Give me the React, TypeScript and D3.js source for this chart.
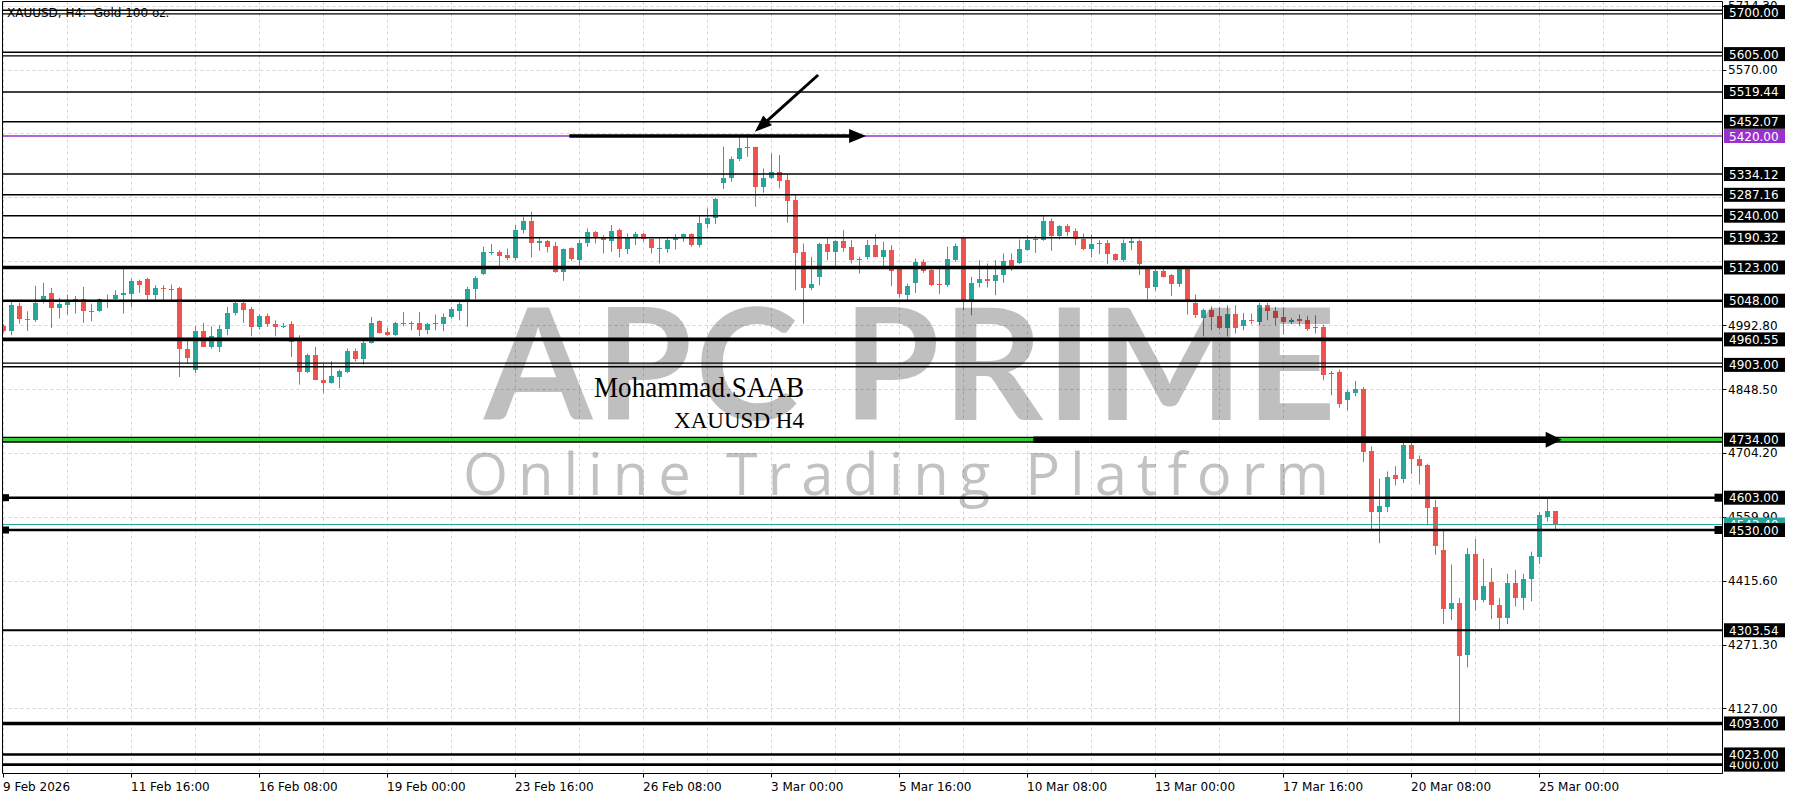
import * as d3 from "d3";

// XAUUSD H4, 9 Feb 2026 00:00 .. 25 Mar 2026 08:00 (one entry per bar)
const OPEN = [
  4990.3, 4979.7, 5035.5, 5007.6, 5003.9, 5047.6, 5066.4, 5031.8, 5039.3, 5047.6,
  5051.4, 5022.7, 5024.2, 5050.6, 5051.4, 5061.9, 5064.2, 5092.1, 5096.6, 5061.9,
  5077.0, 5074.0, 5077.0, 4939.8, 4890.8, 4980.5, 4943.5, 4943.5, 4985.0, 5020.4,
  5043.1, 5028.7, 4988.8, 5012.9, 4996.3, 4990.3, 4994.8, 4956.4, 4887.0, 4924.7,
  4869.6, 4862.1, 4875.7, 4887.0, 4933.7, 4915.6, 4953.3, 5001.6, 4977.5, 4971.4,
  4997.8, 4994.8, 4997.8, 4981.2, 4994.8, 4996.3, 5011.4, 5025.0, 5049.1, 5073.3,
  5107.2, 5156.5, 5156.9, 5150.9, 5143.4, 5207.5, 5227.8, 5177.3, 5182.6, 5171.3,
  5113.2, 5166.0, 5139.6, 5177.3, 5202.2, 5192.4, 5183.3, 5207.5, 5163.7, 5192.4,
  5198.4, 5186.3, 5164.5, 5163.7, 5184.8, 5192.4, 5198.4, 5173.5, 5220.3, 5233.8,
  5314.5, 5324.3, 5367.3, 5392.2, 5394.4, 5305.5, 5324.3, 5339.4, 5320.6, 5275.3,
  5156.9, 5077.0, 5101.9, 5175.8, 5158.5, 5182.6, 5168.3, 5139.6, 5147.2, 5173.5,
  5147.2, 5162.2, 5118.5, 5060.4, 5088.3, 5134.3, 5117.0, 5085.3, 5083.0, 5139.6,
  5190.1, 5049.1, 5088.3, 5096.6, 5092.8, 5105.7, 5139.6, 5132.1, 5162.2, 5184.8,
  5184.8, 5227.8, 5193.9, 5216.5, 5205.2, 5187.1, 5164.5, 5175.8, 5178.8, 5153.2,
  5139.6, 5177.3, 5182.6, 5122.2, 5079.3, 5114.7, 5105.7, 5085.3, 5120.8, 5043.8,
  5009.1, 5026.5, 5012.9, 4987.3, 5019.0, 4990.3, 5005.4, 5000.1, 5037.8, 5024.2,
  5011.4, 5000.1, 5007.6, 5005.4, 4986.5, 4988.8, 4881.7, 4887.0, 4824.4, 4839.5,
  4849.3, 4708.3, 4570.3, 4581.6, 4653.3, 4644.2, 4721.1, 4691.0, 4675.9, 4581.6,
  4485.9, 4351.6, 4365.2, 4247.6, 4476.1, 4372.0, 4412.0, 4360.7, 4331.3, 4409.7,
  4376.6, 4419.5, 4468.6, 4559.0, 4571.8,
];
const HIGH = [
  4995.0, 5045.3, 5043.1, 5024.2, 5081.5, 5088.3, 5077.0, 5054.4, 5061.9, 5058.9,
  5079.3, 5041.6, 5052.9, 5061.9, 5071.7, 5119.2, 5098.1, 5095.8, 5099.6, 5083.0,
  5083.0, 5084.5, 5079.3, 4958.6, 4990.3, 4997.8, 4990.3, 4992.6, 5034.0, 5049.1,
  5050.6, 5034.0, 5017.4, 5018.9, 5003.9, 4997.8, 5001.6, 4969.9, 4928.5, 4943.5,
  4905.8, 4911.1, 4892.3, 4939.8, 4939.8, 4962.4, 5011.4, 5003.9, 4986.5, 5000.1,
  5022.7, 5001.6, 5022.7, 4997.8, 5016.7, 5018.9, 5034.0, 5047.6, 5079.3, 5103.4,
  5169.8, 5175.8, 5162.2, 5166.0, 5218.8, 5237.6, 5248.9, 5192.4, 5184.8, 5181.1,
  5166.0, 5168.3, 5186.3, 5211.2, 5205.2, 5196.2, 5218.8, 5211.2, 5199.9, 5203.7,
  5201.4, 5188.6, 5188.6, 5192.4, 5198.4, 5199.9, 5199.9, 5239.1, 5256.5, 5280.6,
  5396.0, 5373.3, 5416.3, 5416.3, 5396.0, 5346.9, 5380.9, 5377.1, 5331.9, 5286.6,
  5177.3, 5147.2, 5178.8, 5188.6, 5184.8, 5207.5, 5184.8, 5147.2, 5184.8, 5198.4,
  5181.1, 5173.5, 5122.0, 5086.8, 5143.4, 5141.1, 5120.8, 5120.8, 5169.8, 5177.3,
  5192.4, 5101.9, 5139.6, 5132.1, 5139.6, 5154.7, 5154.7, 5186.3, 5196.2, 5194.6,
  5241.4, 5233.8, 5218.8, 5221.0, 5211.2, 5199.9, 5197.7, 5184.8, 5184.8, 5154.7,
  5186.3, 5190.1, 5186.3, 5126.0, 5120.8, 5120.8, 5107.9, 5124.5, 5122.0, 5061.9,
  5030.2, 5035.5, 5034.0, 5037.8, 5037.8, 5020.4, 5018.9, 5043.1, 5043.1, 5034.0,
  5032.5, 5009.1, 5016.7, 5013.7, 5015.2, 4994.1, 4889.3, 4892.3, 4847.0, 4866.6,
  4853.1, 4718.9, 4645.7, 4662.3, 4674.4, 4732.4, 4732.4, 4698.5, 4679.7, 4598.2,
  4532.6, 4451.9, 4376.6, 4488.9, 4510.0, 4464.8, 4444.4, 4376.6, 4430.8, 4439.9,
  4430.8, 4481.4, 4570.3, 4600.5, 4571.8,
];
const LOW = [
  4976.0, 4969.9, 4996.3, 4979.7, 5000.1, 5041.6, 4986.5, 5007.6, 5016.7, 5018.9,
  4997.8, 5001.6, 5022.7, 5031.8, 5049.1, 5018.9, 5034.0, 5065.7, 5049.1, 5049.1,
  5049.1, 5049.1, 4875.7, 4905.8, 4884.7, 4943.5, 4940.0, 4932.2, 4969.9, 5015.2,
  4997.8, 4967.7, 4982.7, 4988.8, 4967.7, 4986.5, 4920.9, 4858.3, 4884.7, 4868.1,
  4839.5, 4860.6, 4850.8, 4884.7, 4911.1, 4903.6, 4951.1, 4973.7, 4968.4, 4968.4,
  4990.3, 4981.2, 4967.7, 4972.2, 4981.2, 4979.0, 5007.6, 5003.9, 4988.8, 5050.6,
  5105.7, 5150.9, 5120.8, 5139.6, 5139.6, 5199.9, 5145.6, 5160.7, 5157.0, 5111.0,
  5092.9, 5138.1, 5120.8, 5169.8, 5177.3, 5154.7, 5158.5, 5145.6, 5153.2, 5173.5,
  5181.1, 5154.7, 5132.1, 5156.2, 5163.7, 5181.1, 5169.8, 5168.3, 5211.2, 5221.0,
  5300.2, 5316.8, 5363.5, 5373.3, 5260.2, 5291.9, 5322.8, 5301.7, 5224.0, 5071.7,
  4996.3, 5071.7, 5083.0, 5139.6, 5120.8, 5158.5, 5132.1, 5109.4, 5141.1, 5145.6,
  5120.8, 5080.8, 5055.0, 5049.1, 5065.7, 5110.9, 5080.8, 5062.7, 5079.3, 5135.8,
  5026.5, 5015.2, 5077.7, 5077.7, 5060.4, 5088.3, 5115.5, 5130.5, 5160.7, 5156.2,
  5183.3, 5160.7, 5186.3, 5193.9, 5173.5, 5162.2, 5145.6, 5153.2, 5130.5, 5138.1,
  5135.8, 5162.2, 5105.7, 5050.6, 5070.2, 5100.4, 5058.2, 5079.3, 5016.7, 5009.1,
  4967.7, 4981.2, 4982.7, 4967.7, 4973.7, 4981.2, 4994.8, 4992.6, 5003.9, 4992.6,
  4971.4, 4994.8, 4990.3, 4979.7, 4973.7, 4868.1, 4834.2, 4806.3, 4800.3, 4832.0,
  4683.4, 4528.9, 4500.2, 4570.3, 4630.7, 4635.9, 4657.0, 4632.9, 4540.2, 4473.8,
  4317.7, 4326.8, 4095.3, 4219.7, 4347.9, 4366.7, 4329.0, 4302.6, 4317.7, 4356.9,
  4349.4, 4369.0, 4453.5, 4549.2, 4528.9,
];
const CLOSE = [
  4979.7, 5037.8, 5007.6, 5003.9, 5043.1, 5058.1, 5031.8, 5040.1, 5045.3, 5051.4,
  5024.2, 5024.2, 5051.4, 5047.6, 5061.9, 5065.7, 5092.1, 5084.5, 5061.9, 5077.0,
  5074.0, 5075.5, 4938.3, 4918.7, 4980.5, 4943.5, 4968.4, 4985.0, 5020.4, 5043.1,
  5026.5, 4988.8, 5012.9, 4994.8, 4988.8, 4991.8, 4954.9, 4887.0, 4924.7, 4869.6,
  4862.1, 4877.2, 4888.5, 4933.7, 4915.6, 4953.3, 4998.6, 4975.2, 4969.9, 4997.8,
  4994.8, 4997.8, 4981.2, 4994.8, 4997.8, 5011.4, 5028.7, 5041.6, 5074.0, 5099.6,
  5156.9, 5158.5, 5149.4, 5144.9, 5207.5, 5227.8, 5177.3, 5182.6, 5169.8, 5113.2,
  5163.7, 5141.9, 5177.3, 5202.2, 5192.4, 5184.8, 5205.9, 5163.7, 5192.4, 5197.7,
  5186.3, 5166.0, 5166.0, 5184.8, 5192.4, 5198.4, 5173.5, 5222.5, 5233.8, 5277.6,
  5324.3, 5367.3, 5392.2, 5394.4, 5305.5, 5324.3, 5339.4, 5319.1, 5273.8, 5156.2,
  5077.0, 5086.8, 5175.8, 5158.5, 5182.6, 5167.5, 5139.6, 5141.9, 5173.5, 5147.2,
  5162.2, 5115.5, 5064.2, 5080.6, 5134.3, 5114.7, 5083.0, 5083.0, 5141.1, 5171.3,
  5049.1, 5088.3, 5096.6, 5092.8, 5105.7, 5137.3, 5126.0, 5164.5, 5184.8, 5187.1,
  5227.8, 5193.9, 5216.5, 5203.7, 5186.3, 5164.5, 5175.8, 5177.3, 5152.4, 5139.6,
  5177.3, 5182.6, 5130.5, 5077.7, 5114.7, 5101.9, 5085.3, 5120.8, 5049.1, 5016.7,
  5028.0, 5011.4, 4987.3, 5019.0, 4986.5, 5005.4, 5001.6, 5037.8, 5024.2, 5009.1,
  5000.1, 5005.4, 5002.4, 4983.5, 4988.8, 4881.0, 4885.5, 4815.4, 4841.8, 4849.3,
  4706.0, 4570.3, 4583.1, 4649.5, 4644.2, 4721.1, 4689.5, 4674.4, 4579.4, 4493.4,
  4351.6, 4365.2, 4246.1, 4476.1, 4372.0, 4404.5, 4360.7, 4331.3, 4409.7, 4376.6,
  4419.5, 4472.3, 4562.8, 4571.8, 4542.4,
];

// one time label every 16 bars
const TIME_LABELS = [
  "9 Feb 2026", "11 Feb 16:00", "16 Feb 08:00", "19 Feb 00:00", "23 Feb 16:00",
  "26 Feb 08:00", "3 Mar 00:00", "5 Mar 16:00", "10 Mar 08:00", "13 Mar 00:00",
  "17 Mar 16:00", "20 Mar 08:00", "25 Mar 00:00",
];
const BARS_PER_LABEL = 16;
const BARS_PER_GRID = 8;

const GRID_PRICES = [4127.0, 4271.3, 4415.6, 4559.9, 4704.2, 4848.5, 4992.8, 5137.1, 5281.4, 5425.7, 5570.0, 5714.3];
const GRID_COVERED = [5137.1, 5281.4, 5425.7];

// horizontal levels drawn on the chart
const THIN_LEVELS = [5519.44, 5452.07, 5334.12, 5287.16, 5240.0, 5190.32];
const MEDIUM_LEVELS = [5048.0, 4603.0, 4530.0, 4023.0, 4000.0];
const LIGHT_LEVELS = [4303.54];
const HEAVY_LEVELS = [5123.0, 4960.55, 4093.0];
const DOUBLE_LEVELS = [5700.0, 5605.0, 4903.0];
const RESISTANCE = 5420.0;
const SUPPORT = 4734.0;
const MARKED_LEVELS = [4603.0, 4530.0];

// arrows: [bar index, price] -> [bar index, price]
const ARROW_FROM: [number, number][] = [[70.8, 5420.0], [101.9, 5557.8], [128.8, 4734.0]];
const ARROW_TO: [number, number][] = [[107.9, 5420.0], [94.0, 5429.7], [194.85, 4734.0]];

const BULL = "#26a69a";
const BEAR = "#ef5350";
const PURPLE = "#9932cc";
const GREEN = "#32cd32";
const AXIS_FONT = "DejaVu Sans";

const L = 2.5, T = 1.5, R = 1722.5, B = 773.5;

function Arrow({ from, to, width, head, half }: { from: [number, number]; to: [number, number]; width: number; head: number; half: number }) {
  const dx = to[0] - from[0];
  const dy = to[1] - from[1];
  const len = Math.hypot(dx, dy);
  const ux = dx / len, uy = dy / len;
  const bx = to[0] - ux * head, by = to[1] - uy * head;
  const pts = [
    [to[0], to[1]],
    [bx - uy * half, by + ux * half],
    [bx + uy * half, by - ux * half],
  ];
  return (
    <g>
      <line x1={from[0]} y1={from[1]} x2={bx + ux * 1} y2={by + uy * 1} stroke="#000" strokeWidth={width} />
      <polygon points={pts.map((p) => p.join(",")).join(" ")} fill="#000" />
    </g>
  );
}

export default function App() {
  const n = CLOSE.length;
  const x = d3.scaleLinear().domain([0, n - 1]).range([2.9, 2.9 + 8 * (n - 1)]);
  const y = d3.scaleLinear().domain([3981.1, 5722.7]).range([773, 2]);
  const fmt = d3.format(".2f");

  const gridXs = d3.range(0, 216, BARS_PER_GRID).map((i) => Math.round(x(i)) + 0.5).filter((v) => v < R);
  const last = CLOSE[n - 1];

  const tagLevels = [
    ...DOUBLE_LEVELS, ...THIN_LEVELS, ...MEDIUM_LEVELS, ...LIGHT_LEVELS, ...HEAVY_LEVELS, SUPPORT,
  ].sort((a, b) => a - b);

  const hline = (p: number, w: number, color = "#000", key?: string) => (
    <line key={key ?? `${p}-${w}`} x1={L} x2={R} y1={y(p)} y2={y(p)} stroke={color} strokeWidth={w} />
  );

  const arrowStyle = [
    { width: 3.5, head: 17, half: 7 },
    { width: 3, head: 17, half: 6.5 },
    { width: 6.5, head: 16, half: 8 },
  ];

  return (
    <svg width={1800} height={800} style={{ position: "absolute", left: 0, top: 0, background: "#fff" }}>
      <defs>
        <clipPath id="plot">
          <rect x={L + 0.5} y={T + 0.5} width={R - L - 1} height={B - T - 1} />
        </clipPath>
      </defs>
      <rect width={1800} height={800} fill="#fff" />

      <g clipPath="url(#plot)">
        {/* dashed grid */}
        {gridXs.map((gx) => (
          <line key={`gx${gx}`} x1={gx} x2={gx} y1={T} y2={B} stroke="#d4d4d4" strokeDasharray="3 3" />
        ))}
        {GRID_PRICES.map((p) => (
          <line key={`gy${p}`} x1={L} x2={R} y1={Math.round(y(p)) + 0.5} y2={Math.round(y(p)) + 0.5} stroke="#d4d4d4" strokeDasharray="3 3" />
        ))}

        {/* candles */}
        {CLOSE.map((c, i) => {
          const o = OPEN[i];
          const col = c >= o ? BULL : BEAR;
          const cx = Math.round(x(i));
          const top = Math.round(y(Math.max(o, c)));
          const bot = Math.round(y(Math.min(o, c)));
          return (
            <g key={i}>
              <line x1={cx + 0.5} x2={cx + 0.5} y1={y(HIGH[i])} y2={y(LOW[i])} stroke={col} />
              <rect x={cx - 2} y={top} width={5} height={Math.max(1, bot - top)} fill={col} />
            </g>
          );
        })}

        {/* levels */}
        {THIN_LEVELS.map((p) => hline(p, 1.5))}
        {LIGHT_LEVELS.map((p) => hline(p, 2))}
        {MEDIUM_LEVELS.map((p) => hline(p, 2.6))}
        {HEAVY_LEVELS.map((p) => hline(p, 3.6))}
        {DOUBLE_LEVELS.map((p) => (
          <g key={`d${p}`}>
            <line x1={L} x2={R} y1={y(p) - 1.8} y2={y(p) - 1.8} stroke="#000" strokeWidth={1.4} />
            <line x1={L} x2={R} y1={y(p) + 1.8} y2={y(p) + 1.8} stroke="#000" strokeWidth={1.4} />
          </g>
        ))}
        {hline(RESISTANCE, 1.6, PURPLE, "res")}
        {hline(SUPPORT, 6, "#000", "sup0")}
        {hline(SUPPORT, 3.2, GREEN, "sup1")}
        {hline(last, 1, BULL, "bid")}

        {MARKED_LEVELS.map((p) => (
          <rect key={`m${p}`} x={L - 0.5} y={y(p) - 3.5} width={7} height={7} fill="#000" />
        ))}

        {/* arrows */}
        {ARROW_FROM.map((f, k) => (
          <Arrow
            key={`a${k}`}
            from={[x(f[0]), y(f[1])]}
            to={[x(ARROW_TO[k][0]), y(ARROW_TO[k][1])]}
            {...arrowStyle[k]}
          />
        ))}

        {/* watermark */}
        <text x={484} y={420} fontFamily="Lato" fontWeight={700} fontSize={156} textLength={852} lengthAdjust="spacing" fill="#000" fillOpacity={0.25}>
          APC PRIME
        </text>
        <text x={463} y={495} fontFamily="Open Sans" fontWeight={400} fontSize={58} textLength={866} lengthAdjust="spacing" fill="#000" fillOpacity={0.24}>
          Online Trading Platform
        </text>

        {/* author notes */}
        <text x={594} y={397} fontFamily="Liberation Serif" fontSize={29} textLength={210} lengthAdjust="spacingAndGlyphs" fill="#000">
          Mohammad.SAAB
        </text>
        <text x={674} y={427.5} fontFamily="Liberation Serif" fontSize={23.5} textLength={130} lengthAdjust="spacingAndGlyphs" fill="#000">
          XAUUSD H4
        </text>

        <text x={7} y={16.5} fontFamily={AXIS_FONT} fontSize={12} fill="#000" style={{ whiteSpace: "pre" }}>
          {"XAUUSD, H4:  Gold 100 oz."}
        </text>
      </g>

      {/* frame */}
      <line x1={L} x2={L} y1={T} y2={B} stroke="#000" />
      <line x1={L} x2={R} y1={T} y2={T} stroke="#000" />
      <line x1={R} x2={R} y1={T} y2={B} stroke="#000" />
      <line x1={L} x2={R} y1={B} y2={B} stroke="#000" />

      {/* price axis: grid values */}
      {GRID_PRICES.filter((p) => !GRID_COVERED.includes(p)).map((p) => (
        <g key={`gl${p}`}>
          <line x1={R} x2={R + 4} y1={Math.round(y(p)) + 0.5} y2={Math.round(y(p)) + 0.5} stroke="#000" />
          <text x={R + 5.5} y={y(p) + 4.5} fontFamily={AXIS_FONT} fontSize={12} fill="#000">
            {fmt(p)}
          </text>
        </g>
      ))}

      {/* bid tag */}
      <rect x={R + 1.5} y={y(last) - 7} width={61} height={14} fill={BULL} />
      <text x={R + 6.5} y={y(last) + 4.5} fontFamily={AXIS_FONT} fontSize={12} fill="#fff">
        {fmt(last)}
      </text>

      {/* level tags */}
      {MARKED_LEVELS.map((p) => (
        <rect key={`mr${p}`} x={R - 8} y={y(p) - 4} width={8} height={8} fill="#000" />
      ))}
      {tagLevels.map((p) => (
        <g key={`t${p}`}>
          <rect x={R + 1.5} y={y(p) - 7} width={61} height={14} fill="#000" />
          <text x={R + 6.5} y={y(p) + 4.5} fontFamily={AXIS_FONT} fontSize={12} fill="#fff">
            {fmt(p)}
          </text>
        </g>
      ))}
      <rect x={R + 1.5} y={y(RESISTANCE) - 7} width={61} height={14} fill={PURPLE} />
      <text x={R + 6.5} y={y(RESISTANCE) + 4.5} fontFamily={AXIS_FONT} fontSize={12} fill="#fff">
        {fmt(RESISTANCE)}
      </text>

      {/* time axis */}
      {TIME_LABELS.map((lab, k) => {
        const tx = Math.round(x(k * BARS_PER_LABEL)) + 0.5;
        return (
          <g key={lab}>
            <line x1={tx} x2={tx} y1={B} y2={B + 4} stroke="#000" />
            <text x={tx - 0.5} y={791} fontFamily={AXIS_FONT} fontSize={12} fill="#000">
              {lab}
            </text>
          </g>
        );
      })}
    </svg>
  );
}
